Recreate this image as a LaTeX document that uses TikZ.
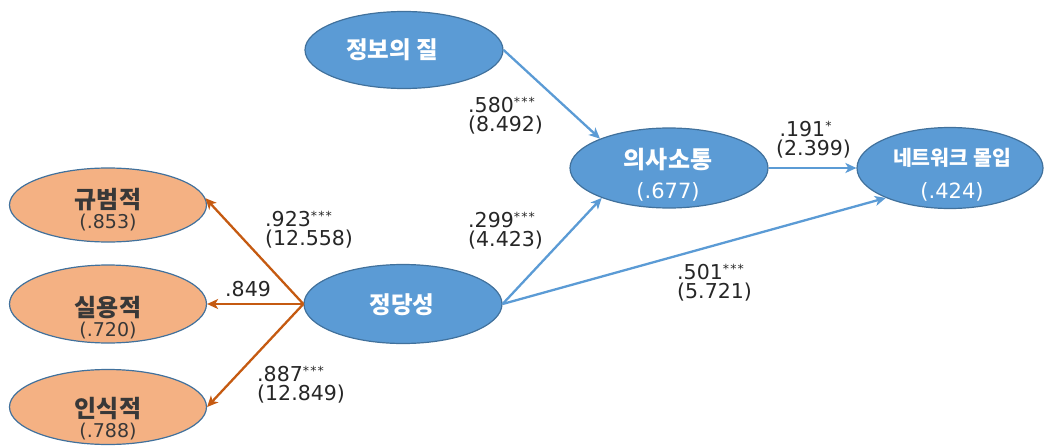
\documentclass[tikz,border=0pt]{standalone}
\usepackage{fontspec}
\setmainfont{Noto Sans CJK KR}
\newfontfamily\numfont{DejaVu Sans}
\usetikzlibrary{shapes.geometric,arrows.meta}
\definecolor{bfill}{RGB}{91,155,213}
\definecolor{bline}{RGB}{65,113,156}
\definecolor{ofill}{RGB}{244,177,131}
\definecolor{oarrow}{RGB}{197,90,17}
\newcommand{\stars}[1]{\raisebox{6pt}{\fontsize{12.5}{12}\selectfont #1}}
\newcommand{\sss}{*\kern1.2pt*\kern1.2pt*}
\tikzset{
  blueell/.style={ellipse, draw=bline, line width=1.2pt, fill=bfill, inner sep=0pt},
  orangeell/.style={ellipse, draw=bline, line width=1.2pt, fill=ofill, inner sep=0pt},
  wtext/.style={inner sep=0pt, align=center, text=white},
  dtext/.style={inner sep=0pt, align=center, text=black!78},
  barrow/.style={draw=bfill, line width=2.3pt, -{Stealth[length=11pt,width=10pt,inset=3pt]}},
  oarr/.style={draw=oarrow, line width=2.3pt, -{Stealth[length=11pt,width=10pt,inset=3pt]}},
  lbl/.style={anchor=west, align=left, inner sep=0pt, text=black!85, font=\numfont\fontsize{20.5}{19}\selectfont},
}
\begin{document}
\begin{tikzpicture}[x=1pt,y=-1pt]
\useasboundingbox (0,0) rectangle (1044,447);
% ellipses
\node[blueell, minimum width=198pt, minimum height=77pt] (iq) at (404,50) {};
\node[blueell, minimum width=198pt, minimum height=79pt] (jd) at (403,304) {};
\node[blueell, minimum width=198pt, minimum height=80pt] (ys) at (669,168) {};
\node[blueell, minimum width=186pt, minimum height=81pt] (nw) at (950,168) {};
\node[orangeell, minimum width=197pt, minimum height=74pt] (gb) at (108,205) {};
\node[orangeell, minimum width=197pt, minimum height=78pt] (sy) at (108,304) {};
\node[orangeell, minimum width=197pt, minimum height=75pt] (is) at (108,407) {};
% texts in ellipses
\node[wtext, font=\bfseries\fontsize{23.5}{24}\selectfont] (iqt) at (392,50) {정보의 질};
\node[wtext, font=\bfseries\fontsize{23.5}{24}\selectfont] (jdt) at (402,305) {정당성};
\node[wtext, font=\bfseries\fontsize{24}{30}\selectfont] (yst) at (668,175) {의사소통\\{\numfont\mdseries\fontsize{21}{30}\selectfont(.677)}};
\node[wtext, font=\bfseries\fontsize{20.5}{33}\selectfont] (nwt) at (952,175) {네트워크 몰입\\{\numfont\mdseries\fontsize{21}{33}\selectfont(.424)}};
\node[dtext, font=\bfseries\fontsize{24}{20}\selectfont] (gbt) at (108,210) {규범적\\{\numfont\mdseries\fontsize{19}{20}\selectfont(.853)}};
\node[dtext, font=\bfseries\fontsize{24}{20}\selectfont] (syt) at (108,318) {실용적\\{\numfont\mdseries\fontsize{19}{20}\selectfont(.720)}};
\node[dtext, font=\bfseries\fontsize{24}{20}\selectfont] (ist) at (108,419) {인식적\\{\numfont\mdseries\fontsize{19}{20}\selectfont(.788)}};
% blue arrows
\draw[barrow] (iq.east) -- (ys.157);
\draw[barrow] (jd.east) -- (ys.204);
\draw[barrow] (jd.east) -- (nw.205);
\draw[barrow] (ys.east) -- (nw.west);
% orange arrows
\draw[oarr] (jd.west) -- (gb.4);
\draw[oarr] (jd.west) -- (sy.east);
\draw[oarr] (jd.west) -- (is.east);
% labels
\node[lbl] (l1) at (468,116) {.580\stars{\sss}\\(8.492)};
\node[lbl] (l2) at (468,231) {.299\stars{\sss}\\(4.423)};
\node[lbl] (l3) at (776,140) {\,.191\stars{*}\\(2.399)};
\node[lbl] (l4) at (677,283) {.501\stars{\sss}\\(5.721)};
\node[lbl] (l5) at (265,230) {.923\stars{\sss}\\(12.558)};
\node[lbl] (l6) at (225,289) {.849};
\node[lbl] (l7) at (257,385) {.887\stars{\sss}\\(12.849)};
\end{tikzpicture}
\end{document}
